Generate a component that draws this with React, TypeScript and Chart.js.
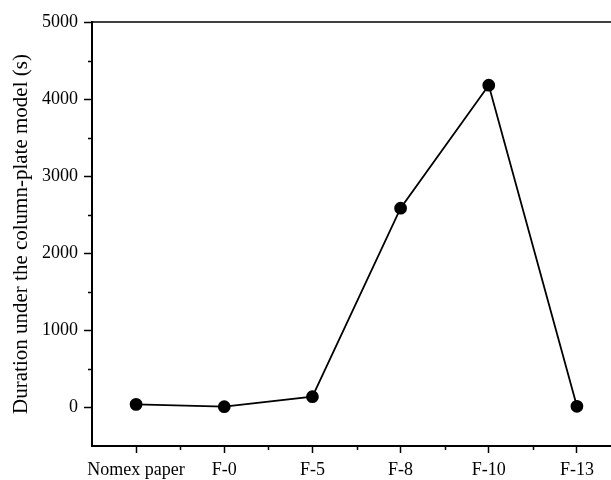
import React, { useEffect, useRef } from "react";
import { Chart, registerables } from "chart.js";

Chart.register(...registerables);

const categories = ["Nomex paper", "F-0", "F-5", "F-8", "F-10", "F-13"];
const durations = [40, 10, 140, 2585, 4180, 15];
const yTickValues = [0, 1000, 2000, 3000, 4000, 5000];
const yMinorValues = [500, 1500, 2500, 3500, 4500];
const yMin = -500;
const yMax = 5000;
const yTitle = "Duration under the column-plate model (s)";

const FONT = "'Liberation Serif', 'Times New Roman', serif";

const frameAndMinor = {
  id: "frameAndMinor",
  afterDraw(chart: any) {
    const { ctx, chartArea, scales } = chart;
    const x = scales.x;
    const y = scales.y;
    ctx.save();
    ctx.strokeStyle = "#000";
    ctx.lineWidth = 1.5;
    ctx.beginPath();
    ctx.moveTo(chartArea.left, chartArea.top);
    ctx.lineTo(chartArea.right + 20, chartArea.top);
    ctx.stroke();
    for (const v of yMinorValues) {
      const py = Math.round(y.getPixelForValue(v)) + 0.5;
      ctx.beginPath();
      ctx.moveTo(chartArea.left - 4, py);
      ctx.lineTo(chartArea.left, py);
      ctx.stroke();
    }
    for (let i = 0; i < categories.length - 1; i++) {
      const px = Math.round(x.getPixelForValue(i + 0.5)) + 0.5;
      ctx.beginPath();
      ctx.moveTo(px, chartArea.bottom);
      ctx.lineTo(px, chartArea.bottom + 4);
      ctx.stroke();
    }
    ctx.restore();
  },
};

export default function App() {
  const ref = useRef<HTMLCanvasElement | null>(null);
  useEffect(() => {
    if (!ref.current) return;
    const chart = new Chart(ref.current, {
      type: "line",
      data: {
        labels: categories,
        datasets: [
          {
            data: durations,
            borderColor: "#000",
            borderWidth: 1.8,
            pointRadius: 5.5,
            pointBackgroundColor: "#000",
            pointBorderColor: "#000",
            tension: 0,
          },
        ],
      },
      options: {
        responsive: false,
        animation: false,
        devicePixelRatio: 1,
        layout: { padding: { top: 22, right: 9, left: 0, bottom: 0 } },
        plugins: { legend: { display: false }, tooltip: { enabled: false } },
        scales: {
          x: {
            type: "category",
            offset: true,
            grid: {
              offset: false,
              drawOnChartArea: false,
              drawTicks: true,
              tickLength: 7,
              tickWidth: 1.5,
              color: "#000",
            },
            border: { display: true, color: "#000", width: 2 },
            ticks: {
              color: "#000",
              padding: 6,
              maxRotation: 0,
              autoSkip: false,
              font: { family: FONT, size: 18 },
            },
            afterFit: (s: any) => {
              s.height = 34;
            },
          },
          y: {
            type: "linear",
            min: yMin,
            max: yMax,
            grid: {
              drawOnChartArea: false,
              drawTicks: true,
              tickLength: 8,
              tickWidth: 1.5,
              color: "#000",
            },
            border: { display: true, color: "#000", width: 2 },
            afterBuildTicks: (s: any) => {
              s.ticks = yTickValues.map((v) => ({ value: v }));
            },
            ticks: {
              color: "#000",
              padding: 6,
              font: { family: FONT, size: 18 },
              callback: (v: any) => String(v),
            },
            title: {
              display: true,
              text: yTitle,
              color: "#000",
              padding: { top: 9, bottom: 0 },
              font: { family: FONT, size: 21, weight: "normal" },
            },
            afterFit: (s: any) => {
              s.width = 92;
            },
          },
        },
      },
      plugins: [frameAndMinor],
    });
    return () => chart.destroy();
  }, []);
  return (
    <div
      style={{
        position: "absolute",
        left: 0,
        top: 0,
        width: 611,
        height: 480,
        overflow: "hidden",
        background: "#fff",
      }}
    >
      <canvas ref={ref} width={630} height={480} style={{ display: "block" }} />
    </div>
  );
}
